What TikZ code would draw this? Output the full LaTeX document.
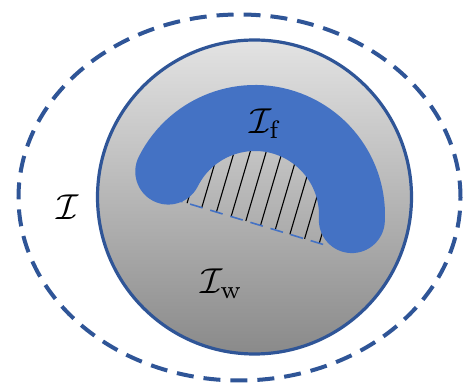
\documentclass[tikz,border=0pt]{standalone}
\usetikzlibrary{shadings}
\definecolor{darkblue}{HTML}{2F5597}
\definecolor{midblue}{HTML}{4472C4}
\tikzset{
  outerdash/.style={draw=darkblue, line width=4pt, dash pattern=on 17pt off 10pt},
  disc/.style={draw=darkblue, line width=3.2pt, top color=black!11, bottom color=black!46},
  band/.style={draw=midblue, line width=66pt, line cap=round},
  lineseg/.style={draw=midblue, line width=1.6pt, dash pattern=on 13pt off 8pt},
  hatchline/.style={draw=black, line width=1.1pt},
  lbl/.style={inner sep=0pt, scale=3.6}
}
\begin{document}
\begin{tikzpicture}[x=1pt,y=1pt]
\useasboundingbox (0,0) rectangle (463,388);
% outer dashed ellipse
\draw[outerdash] (239.5,190.5) ellipse [x radius=221, y radius=183];
% grey disc
\path[disc] (254.5,191) circle [radius=157];
% hatched region
\coordinate (dl) at (170,190);
\coordinate (dr) at (325,143);
\begin{scope}
  \clip (dl) -- (dr) -- (340,240) -- (160,240) -- cycle;
  \clip (255,173) circle [radius=97];
  \foreach \i in {0,...,16} {
    \draw[hatchline] (120+16*\i,120) -- ++(73.6:160);
  }
\end{scope}
\draw[lineseg] (dl) -- (dr);
% blue band
\draw[band] (255,173) ++(153.4:97) arc [start angle=153.4, end angle=-3, radius=97];
% labels
\node[lbl] (If) at (266,264) {$\mathcal{I}_{\mathrm{f}}$};
\node[lbl] (I) at (68,181) {$\mathcal{I}$};
\node[lbl] (Iw) at (222,104) {$\mathcal{I}_{\mathrm{w}}$};
\end{tikzpicture}
\end{document}
